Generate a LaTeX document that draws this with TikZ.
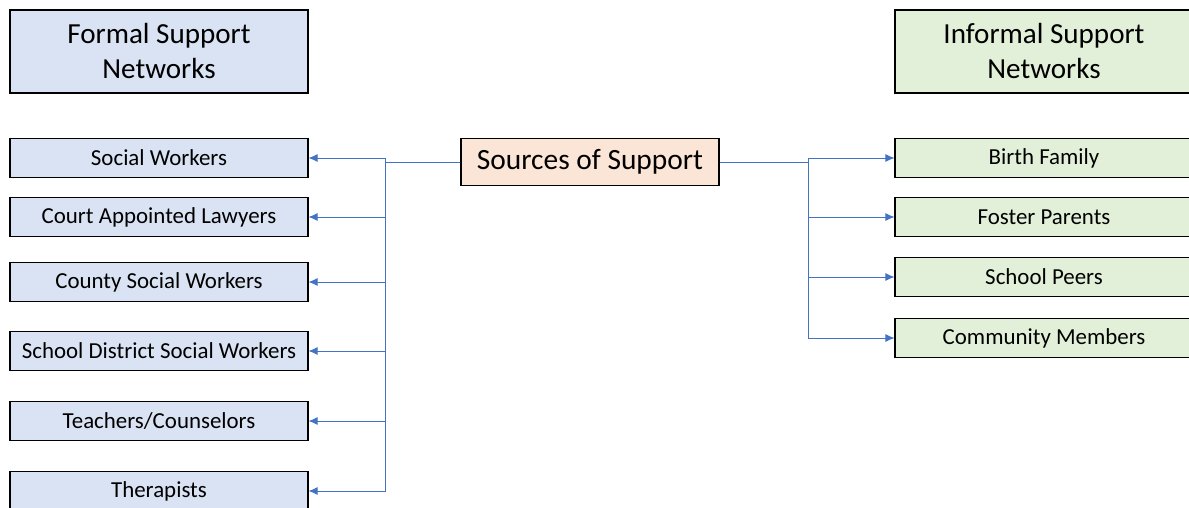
\documentclass[tikz,border=0pt]{standalone}
\usepackage{xcolor}
\usepackage{fontspec}
\setmainfont{Carlito}
\usetikzlibrary{arrows.meta}
\definecolor{FormalBlue}{HTML}{DAE3F3}
\definecolor{InformalGreen}{HTML}{E2F0D9}
\definecolor{SourcePeach}{HTML}{FBE5D6}
\definecolor{LinkBlue}{HTML}{4472C4}

\begin{document}
\begin{tikzpicture}[x=1pt,y=-1pt,
  box/.style={draw=black,line width=1.2pt,minimum width=298pt,minimum height=39pt,inner sep=0pt,font=\fontsize{22.9}{26}\selectfont},
  head/.style={box,minimum height=83pt,align=center,font=\fontsize{29.1}{35}\selectfont},
  formal/.style={box,fill=FormalBlue},
  informal/.style={box,fill=InformalGreen},
  link/.style={LinkBlue,line width=0.8pt,-{Latex[length=9pt,width=8pt]}}]
\clip (0,0) rectangle (1189,508);
\fill[white] (0,0) rectangle (1189,508);

% headers
\node[head,fill=FormalBlue] (formalhead) at (159,51.5) {Formal Support\\Networks};
\node[head,fill=InformalGreen] (informalhead) at (1044,51.5) {Informal Support\\Networks};

% centre
\node[box,fill=SourcePeach,minimum width=258pt,minimum height=47pt,font=\fontsize{29.4}{33}\selectfont] (sources) at (590,162) {Sources of Support};
\coordinate (ltrunk) at (385,162);
\coordinate (rtrunk) at (808,162);

% formal side
\node[formal] (socwork) at (159,158) {Social Workers};
\node[formal] (lawyers) at (159,217) {Court Appointed Lawyers};
\node[formal] (county) at (159,282) {County Social Workers};
\node[formal] (district) at (159,351) {School District Social Workers};
\node[formal] (teachers) at (159,421) {Teachers/Counselors};
\node[formal] (therapists) at (159,491) {Therapists};

% informal side
\node[informal] (birth) at (1044,158) {Birth Family};
\node[informal] (foster) at (1044,217) {Foster Parents};
\node[informal] (peers) at (1044,277) {School Peers};
\node[informal] (community) at (1044,338) {Community Members};

% links
\foreach \t in {socwork,lawyers,county,district,teachers,therapists}
  \draw[link] (sources.west) -- (ltrunk) |- (\t.east);
\foreach \t in {birth,foster,peers,community}
  \draw[link] (sources.east) -- (rtrunk) |- (\t.west);
\end{tikzpicture}
\end{document}
